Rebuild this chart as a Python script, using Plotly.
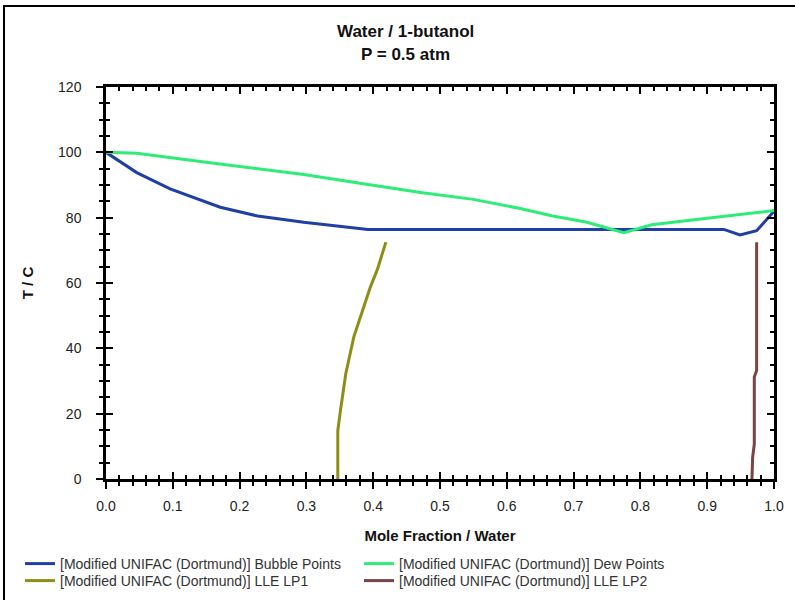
import plotly.graph_objects as go

# Bubble points (liquid)
bub_x = [0.0, 0.046, 0.096, 0.171, 0.227, 0.296, 0.392, 0.50, 0.60, 0.70, 0.80, 0.90, 0.925, 0.949, 0.974, 1.0]
bub_T = [100.0, 93.8, 88.8, 83.2, 80.5, 78.6, 76.4, 76.4, 76.4, 76.4, 76.4, 76.4, 76.4, 74.7, 76.0, 82.0]

# Dew points (vapour)
dew_x = [0.0, 0.046, 0.176, 0.296, 0.39, 0.471, 0.55, 0.62, 0.667, 0.72, 0.775, 0.817, 0.90, 1.0]
dew_T = [100.0, 99.7, 96.3, 93.2, 90.2, 87.7, 85.6, 82.8, 80.6, 78.6, 75.4, 77.8, 79.8, 82.2]

# LLE LP1
lp1_x = [0.347, 0.347, 0.351, 0.359, 0.371, 0.381, 0.396, 0.406, 0.419]
lp1_T = [0.0, 14.8, 21.0, 32.3, 43.5, 49.6, 58.9, 64.0, 72.5]

# LLE LP2
lp2_x = [0.967, 0.968, 0.9705, 0.9705, 0.974, 0.974]
lp2_T = [0.0, 6.6, 10.7, 31.2, 33.2, 72.5]

x_ticks = [0.0, 0.1, 0.2, 0.3, 0.4, 0.5, 0.6, 0.7, 0.8, 0.9, 1.0]
y_ticks = [0, 20, 40, 60, 80, 100, 120]

FONT = "Liberation Sans, Arial, sans-serif"
L, R, T, B = 106, 21, 87, 121
W, H = 795, 600
PW, PH = W - L - R, H - T - B


def px_x(p):
    return (p - L) / PW


def px_y(p):
    return (H - B - p) / PH


fig = go.Figure()
fig.add_trace(go.Scatter(x=bub_x, y=bub_T, mode="lines", name="[Modified UNIFAC (Dortmund)] Bubble Points",
                         line=dict(color="#1f3fa6", width=3), legend="legend"))
fig.add_trace(go.Scatter(x=dew_x, y=dew_T, mode="lines", name="[Modified UNIFAC (Dortmund)] Dew Points",
                         line=dict(color="#2eec78", width=3), legend="legend"))
fig.add_trace(go.Scatter(x=lp1_x, y=lp1_T, mode="lines", name="[Modified UNIFAC (Dortmund)] LLE LP1",
                         line=dict(color="#8e8e16", width=3), legend="legend2"))
fig.add_trace(go.Scatter(x=lp2_x, y=lp2_T, mode="lines", name="[Modified UNIFAC (Dortmund)] LLE LP2",
                         line=dict(color="#7a4444", width=3), legend="legend2"))

legfont = dict(family=FONT, size=14, color="#333")
leg_common = dict(orientation="h", xanchor="left", yanchor="middle", entrywidth=294, entrywidthmode="pixels",
                  font=legfont, bgcolor="rgba(0,0,0,0)", itemwidth=30, x=px_x(20))

tickfont = dict(family=FONT, size=14, color="#222")
fig.update_layout(
    width=W, height=H,
    margin=dict(l=L, r=R, t=T, b=B, autoexpand=False),
    paper_bgcolor="white", plot_bgcolor="white",
    showlegend=True,
    legend=dict(leg_common, y=px_y(564)),
    legend2=dict(leg_common, y=px_y(581)),
    xaxis=dict(range=[0, 1], tickvals=x_ticks, ticktext=[f"{v:.1f}" for v in x_ticks], automargin=False,
               ticks="outside", ticklen=7, tickwidth=2, tickcolor="black",
               minor=dict(dtick=0.02, ticks="outside", ticklen=4, tickwidth=1.5, tickcolor="black"),
               showline=True, linecolor="black", linewidth=2.5, showgrid=False, zeroline=False,
               tickfont=tickfont, ticklabelstandoff=5,
               title=dict(text="<b>Mole Fraction / Water</b>", font=dict(family=FONT, size=15, color="#111"),
                          standoff=18)),
    yaxis=dict(range=[0, 120], tickvals=y_ticks, ticks="outside", ticklen=7, tickwidth=2, tickcolor="black",
               automargin=False,
               minor=dict(dtick=5, ticks="outside", ticklen=4, tickwidth=1.5, tickcolor="black"),
               showline=True, linecolor="black", linewidth=2.5, showgrid=False, zeroline=False,
               tickfont=tickfont, ticklabelstandoff=12,
               title=dict(text="<b>T / C</b>", font=dict(family=FONT, size=15, color="#111"), standoff=21)),
    xaxis2=dict(range=[0, 1], overlaying="x", side="bottom", tickvals=x_ticks, showticklabels=False,
                automargin=False,
                ticks="inside", ticklen=7, tickwidth=2, tickcolor="black", mirror="allticks",
                minor=dict(dtick=0.02, ticks="inside", ticklen=4, tickwidth=1.5, tickcolor="black"),
                showline=True, linecolor="black", linewidth=2.5, showgrid=False, zeroline=False),
    yaxis2=dict(range=[0, 120], overlaying="y", side="left", tickvals=y_ticks, showticklabels=False,
                automargin=False,
                ticks="inside", ticklen=7, tickwidth=2, tickcolor="black", mirror="allticks",
                minor=dict(dtick=5, ticks="inside", ticklen=4, tickwidth=1.5, tickcolor="black"),
                showline=True, linecolor="black", linewidth=2.5, showgrid=False, zeroline=False),
)
# invisible trace to activate overlay axes
fig.add_trace(go.Scatter(x=[0], y=[0], xaxis="x2", yaxis="y2", mode="markers",
                         marker=dict(opacity=0), showlegend=False, hoverinfo="skip"))

fig.add_annotation(text="<b>Water / 1-butanol</b>", xref="paper", yref="paper",
                   x=px_x(405), y=px_y(32), showarrow=False, xanchor="center", yanchor="middle",
                   font=dict(family=FONT, size=17, color="#111"))
fig.add_annotation(text="<b>P = 0.5 atm</b>", xref="paper", yref="paper",
                   x=px_x(405), y=px_y(55), showarrow=False, xanchor="center", yanchor="middle",
                   font=dict(family=FONT, size=17, color="#111"))

fig.add_shape(type="rect", xref="paper", yref="paper",
              x0=px_x(4), x1=px_x(805), y0=px_y(610), y1=px_y(6),
              line=dict(color="black", width=2), fillcolor="rgba(0,0,0,0)", layer="below")

fig.write_html("out.html", post_script="document.body.style.margin='0';",
               config={"displayModeBar": False})
